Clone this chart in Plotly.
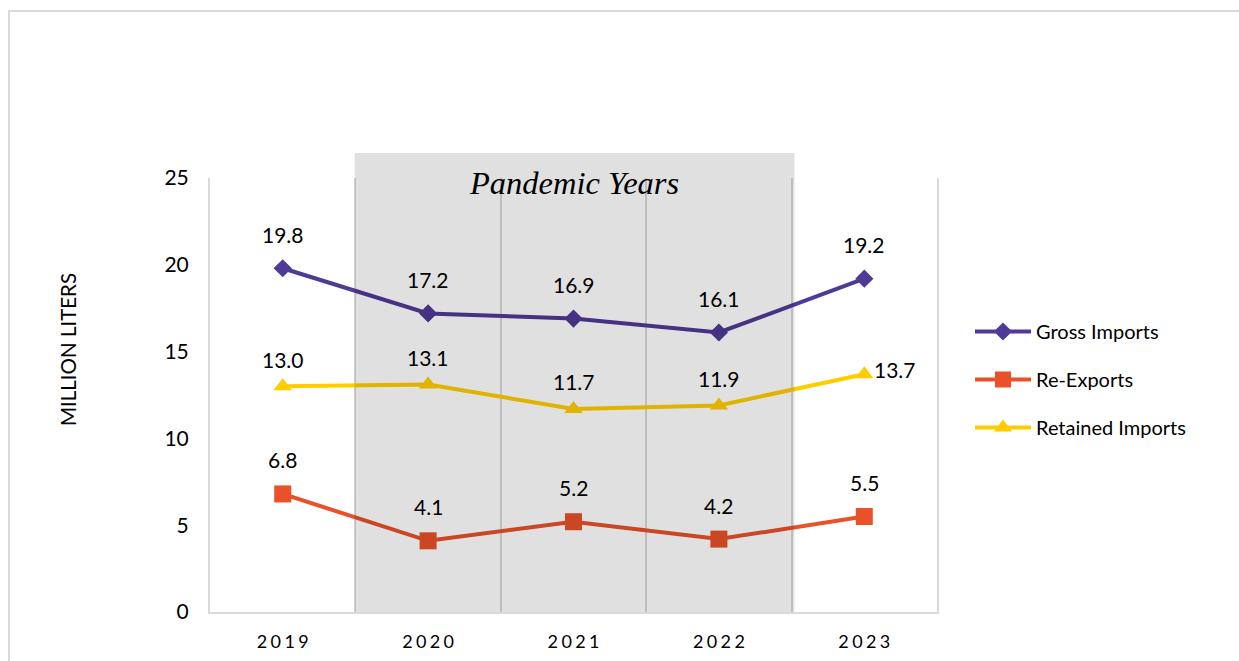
import plotly.graph_objects as go

# ---- data -------------------------------------------------------------
years = ["2019", "2020", "2021", "2022", "2023"]
gross_imports = [19.8, 17.2, 16.9, 16.1, 19.2]
re_exports = [6.8, 4.1, 5.2, 4.2, 5.5]
retained_imports = [13.0, 13.1, 11.7, 11.9, 13.7]
y_ticks = [0, 5, 10, 15, 20, 25]

# ---- page geometry ----------------------------------------------------
W, H = 1239, 661
L, R, T, B = 210, 302, 178, 49
PW, PH = W - L - R, H - T - B


def px_x(p):
    return (p - L) / PW


def px_y(p):
    return (H - B - p) / PH


SANS = "Lato, 'Open Sans', sans-serif"
LABEL_FONT = dict(family=SANS, size=21, color="#000000")

series = [
    ("Gross Imports", gross_imports, "#4F3A96", "diamond", 14, 34),
    ("Re-Exports", re_exports, "#E8512A", "square", 17, 34),
    ("Retained Imports", retained_imports, "#FFCC00", "triangle-up", 16, 27),
]

fig = go.Figure()
annotations = []
for i, (name, vals, color, symbol, msize, shift) in enumerate(series):
    fig.add_trace(go.Scatter(
        x=years, y=vals, name=name, mode="lines+markers",
        line=dict(color=color, width=4),
        marker=dict(symbol=symbol, size=msize, color=color),
        legendgroup=f"g{i}",
    ))
    for j, v in enumerate(vals):
        if name == "Retained Imports" and j == len(vals) - 1:
            # last retained value sits to the right of its marker
            annotations.append(dict(xref="x", yref="y", x=j, y=v,
                                    text=f"{v:.1f}", showarrow=False,
                                    xanchor="left", yanchor="middle",
                                    xshift=8, yshift=5, font=LABEL_FONT))
        else:
            annotations.append(dict(xref="x", yref="y", x=j, y=v,
                                    text=f"{v:.1f}", showarrow=False,
                                    xanchor="center", yanchor="middle",
                                    yshift=shift, font=LABEL_FONT))

# band caption
annotations.append(dict(
    xref="x", yref="paper", x=2, y=px_y(183), text="<i>Pandemic Years</i>",
    showarrow=False, xanchor="center", yanchor="middle",
    font=dict(family="'Liberation Serif', 'Times New Roman', serif", size=32.5,
              color="#000000"),
))

# y-axis title
annotations.append(dict(
    xref="paper", yref="paper", x=px_x(68), y=px_y(350),
    text="MILLION LITERS", textangle=-90, showarrow=False,
    xanchor="center", yanchor="middle",
    font=dict(family=SANS, size=20.5, color="#000000"),
))

shapes = [
    # shaded pandemic band
    dict(type="rect", xref="x", yref="paper", x0=0.495, x1=3.52,
         y0=0, y1=px_y(153), fillcolor="rgba(0,0,0,0.12)",
         line=dict(width=0), layer="above"),
    # outer frame
    dict(type="rect", xref="paper", yref="paper",
         x0=px_x(9), x1=px_x(W + 20), y0=px_y(H + 20), y1=px_y(11),
         fillcolor="rgba(0,0,0,0)", line=dict(color="#d9d9d9", width=2),
         layer="below"),
]

fig.update_layout(
    width=W, height=H, autosize=False,
    margin=dict(l=L, r=R, t=T, b=B, pad=0, autoexpand=False),
    paper_bgcolor="#ffffff", plot_bgcolor="#ffffff",
    font=dict(family=SANS, color="#000000"),
    showlegend=True,
    legend=dict(
        xref="container", yref="container",
        x=970 / W, y=1 - 312 / H, xanchor="left", yanchor="top",
        font=dict(family=SANS, size=20, color="#000000"),
        tracegroupgap=19, bgcolor="rgba(0,0,0,0)", itemwidth=56,
    ),
    annotations=annotations,
    shapes=shapes,
    xaxis=dict(
        type="category", range=[-0.5, 4.5], tickson="boundaries",
        showgrid=True, gridcolor="#d9d9d9", gridwidth=2,
        showline=True, linecolor="#d9d9d9", linewidth=2,
        ticks="", zeroline=False, automargin=False,
        tickmode="array", tickvals=years,
        ticktext=["\u2009\u200a".join(y) for y in years],
        tickfont=dict(family=SANS, size=18, color="#000000"),
        ticklabelstandoff=12,
    ),
    yaxis=dict(
        range=[0, 25], tickvals=y_ticks, showgrid=False, zeroline=False,
        showline=True, linecolor="#d9d9d9", linewidth=2, mirror=True,
        ticks="", automargin=False,
        tickfont=dict(family=SANS, size=21, color="#000000"),
        ticklabelstandoff=15,
    ),
)

fig.write_html("out.html")
